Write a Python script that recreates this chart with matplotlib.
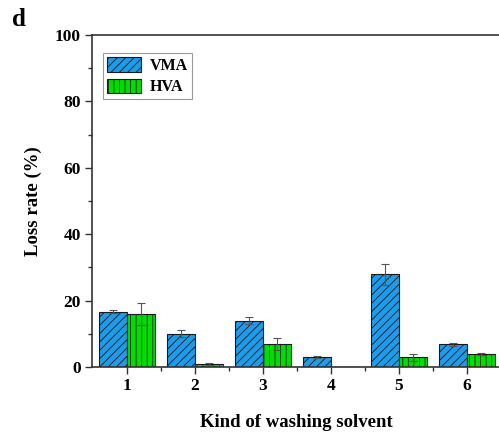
import numpy as np
import matplotlib
matplotlib.use("Agg")
import matplotlib.pyplot as plt

# loss rate of each washing solvent, mean and error
solvents = [1, 2, 3, 4, 5, 6]
vma = [16.7, 10.0, 14.0, 2.9, 27.9, 6.8]
vma_err = [0.4, 1.0, 1.0, 0.3, 3.1, 0.4]
hva = [16.0, 0.8, 6.9, 0.0, 2.9, 3.8]
hva_err = [3.3, 0.3, 1.7, 0.0, 1.0, 0.3]

plt.rcParams['font.family'] = 'Liberation Serif'
plt.rcParams['font.weight'] = 'bold'
plt.rcParams['hatch.linewidth'] = 0.6
plt.rcParams['hatch.color'] = '#1a1a1a'

fig = plt.figure(figsize=(4.99, 4.36), dpi=100)
ax = fig.add_axes([92 / 499, 1 - 367 / 436, 409 / 499, 332 / 436])

x = np.array(solvents)
w = 0.41
ax.bar(x - w / 2, vma, w, color='#1e9bea', edgecolor='#1a1a1a', linewidth=0.8,
       hatch='////', label='VMA', zorder=2)
ax.bar(x + w / 2, hva, w, color='#00dd00', edgecolor='#1a1a1a', linewidth=0.8,
       hatch='|||', label='HVA', zorder=2)

mask = np.array(hva) > 0
ax.errorbar(x - w / 2, vma, yerr=vma_err, fmt='none', ecolor='#555555',
            elinewidth=0.8, capsize=3, capthick=0.8, zorder=3)
ax.errorbar((x + w / 2)[mask], np.array(hva)[mask], yerr=np.array(hva_err)[mask],
            fmt='none', ecolor='#555555', elinewidth=0.8, capsize=3,
            capthick=0.8, zorder=3)

ax.set_xlim(0.49, 6.5)
ax.set_ylim(0, 100)
ax.set_xticks(solvents)
ax.set_xticks(np.arange(1.5, 6.5, 1), minor=True)
ax.set_yticks(range(0, 101, 20))
ax.set_yticks(range(10, 100, 20), minor=True)
ax.tick_params(which='major', direction='out', length=5, width=1,
               color='#333333', labelsize=12.5, pad=3)
ax.tick_params(which='minor', direction='out', length=3, width=1,
               color='#333333')
for side in ['left', 'bottom', 'top', 'right']:
    ax.spines[side].set_color('#333333')
    ax.spines[side].set_linewidth(1.2)

ax.set_xlabel('Kind of washing solvent', fontsize=13.5, fontweight='bold',
              labelpad=14)
ax.set_ylabel('Loss rate (%)', fontsize=13.5, fontweight='bold', labelpad=9)

leg = ax.legend(loc='upper left', bbox_to_anchor=(0.027, 0.946), fontsize=11.5,
                handlelength=2.1, handleheight=1.05, fancybox=False,
                edgecolor='#999999', framealpha=1, borderpad=0.25,
                borderaxespad=0, handletextpad=0.6, labelspacing=0.3)
leg.get_frame().set_linewidth(0.8)

fig.text(12 / 499, 1 - 20 / 436, 'd', fontsize=18, fontweight='bold',
         va='center', ha='left')

fig.savefig('out.png', dpi=100)
